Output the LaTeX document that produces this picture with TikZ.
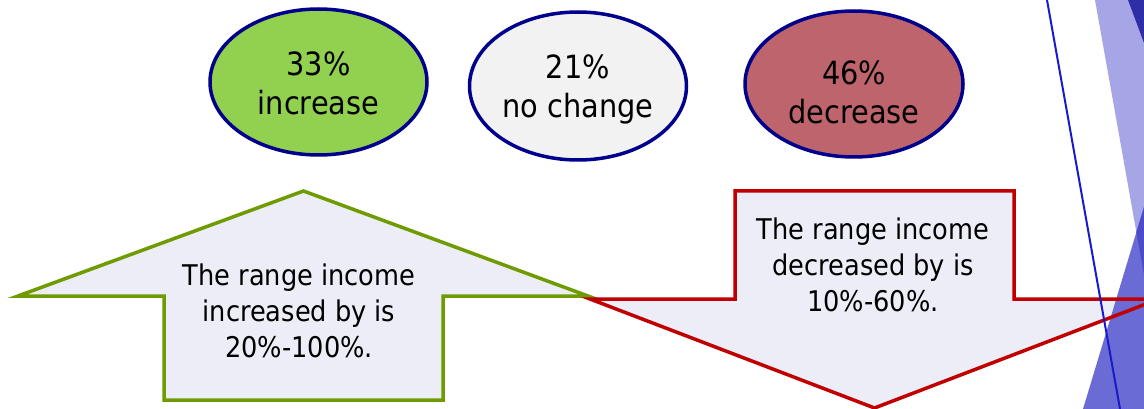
\documentclass[tikz,border=0pt]{standalone}
\usepackage{fontspec}
\setmainfont{DejaVu Sans}[FakeStretch=0.9]
\usetikzlibrary{shapes.geometric}
\definecolor{ovalline}{HTML}{00008C}
\definecolor{incfill}{HTML}{92D050}
\definecolor{nochfill}{HTML}{F2F2F2}
\definecolor{decfill}{HTML}{BE646C}
\definecolor{arrowfill}{HTML}{EDEDF8}
\definecolor{greenline}{HTML}{6E9C00}
\definecolor{redline}{HTML}{C00000}
\definecolor{decolav}{HTML}{A6A6E6}
\definecolor{decodark}{HTML}{2E2EA6}
\definecolor{decomid}{HTML}{6B6BD6}
\definecolor{decostrip}{HTML}{4C4CC9}
\definecolor{decoline}{HTML}{1A1ACC}
\tikzset{
  oval/.style={ellipse, draw=ovalline, line width=3.5pt, inner sep=0pt},
  ovaltext/.style={align=center, inner sep=0pt, font=\fontsize{32}{39}\selectfont},
  arrowtext/.style={align=center, inner sep=0pt, font=\fontsize{28.5}{36}\selectfont},
  uparrow/.style={fill=arrowfill, draw=greenline, line width=3.5pt, line join=miter},
  downarrow/.style={draw=redline, line width=3.5pt, line join=miter},
}
\begin{document}
\begin{tikzpicture}[x=1pt,y=-1pt]
\useasboundingbox (0,0) rectangle (1144,409);
\clip (0,0) rectangle (1144,409);
% ovals
\node[oval, fill=incfill, minimum width=217pt, minimum height=146pt] (inc) at (318.5,82) {};
\node[ovaltext] (inctext) at (318.5,83) {33\%\\increase};
\node[oval, fill=nochfill, minimum width=217pt, minimum height=148pt] (noch) at (578,86) {};
\node[ovaltext] (nochtext) at (578,89) {21\%\\no change};
\node[oval, fill=decfill, minimum width=218pt, minimum height=146pt] (dec) at (854,84) {};
\node[ovaltext] (dectext) at (854,92) {46\%\\decrease};
% up arrow
\draw[uparrow] (303.5,191) -- (588,296) -- (443,296) -- (443,400) -- (164,400) -- (164,296) -- (18,296) -- cycle;
\node[arrowtext] (uptext) at (299,311) {The range income\\increased by is\\20\%-100\%.};
% down arrow fill
\fill[arrowfill] (735,191) -- (1014,191) -- (1014,299) -- (1159,299) -- (874.5,408) -- (590,299) -- (735,299) -- cycle;
% decoration
\fill[decolav] (1095,0) -- (1144,0) -- (1144,275) -- cycle;
\fill[decodark] (1128,0) -- (1144,0) -- (1144,43) -- cycle;
\fill[decomid] (1083,409) -- (1144,207) -- (1144,409) -- cycle;
\fill[decostrip] (1144,207) -- (1136.4,232) -- (1144,275) -- cycle;
% down arrow outline
\draw[downarrow] (735,191) -- (1014,191) -- (1014,299) -- (1159,299) -- (874.5,408) -- (590,299) -- (735,299) -- cycle;
\node[arrowtext] (downtext) at (873,265) {The range income\\decreased by is\\10\%-60\%.};
\draw[decoline, line width=2pt] (1047,0) -- (1120,409);
\end{tikzpicture}
\end{document}
